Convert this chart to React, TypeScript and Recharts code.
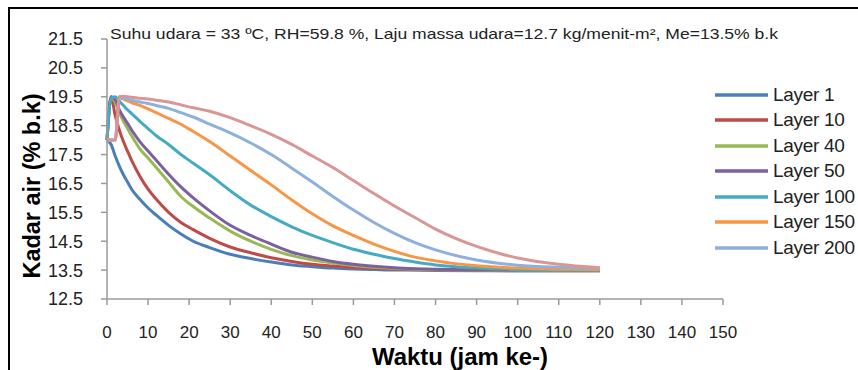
import { LineChart, Line, XAxis, YAxis, Legend } from 'recharts';

const times = [0, 1, 2, 3, 4, 5, 6, 8, 10, 12, 15, 18, 21, 25, 30, 35, 40, 45, 50, 55, 60, 65, 70, 75, 80, 90, 100, 110, 120];

const layer1 = [18.0, 17.85, 17.45, 17.1, 16.8, 16.55, 16.3, 15.95, 15.65, 15.4, 15.05, 14.75, 14.5, 14.28, 14.05, 13.9, 13.78, 13.68, 13.62, 13.57, 13.54, 13.52, 13.5, 13.5, 13.49, 13.48, 13.48, 13.48, 13.48];
const layer10 = [18.0, 19.5, 18.85, 18.35, 17.95, 17.62, 17.3, 16.75, 16.3, 15.95, 15.5, 15.15, 14.9, 14.6, 14.3, 14.1, 13.93, 13.8, 13.7, 13.64, 13.59, 13.56, 13.53, 13.51, 13.5, 13.49, 13.48, 13.48, 13.48];
const layer40 = [18.0, 19.5, 19.3, 18.95, 18.65, 18.4, 18.15, 17.7, 17.38, 17.05, 16.55, 16.05, 15.7, 15.3, 14.85, 14.5, 14.22, 14.0, 13.85, 13.75, 13.66, 13.6, 13.56, 13.53, 13.51, 13.5, 13.49, 13.49, 13.49];
const layer50 = [18.0, 19.5, 19.4, 19.05, 18.8, 18.58, 18.35, 17.95, 17.62, 17.3, 16.82, 16.38, 16.0, 15.55, 15.05, 14.7, 14.4, 14.12, 13.95, 13.8, 13.7, 13.63, 13.58, 13.55, 13.53, 13.51, 13.5, 13.5, 13.5];
const layer100 = [18.0, 19.45, 19.5, 19.35, 19.2, 19.05, 18.92, 18.65, 18.4, 18.15, 17.85, 17.5, 17.2, 16.8, 16.25, 15.75, 15.35, 15.0, 14.7, 14.45, 14.22, 14.05, 13.9, 13.78, 13.68, 13.57, 13.52, 13.5, 13.5];
const layer150 = [18.0, 18.0, 18.0, 19.5, 19.42, 19.36, 19.3, 19.2, 19.08, 18.95, 18.75, 18.55, 18.3, 17.95, 17.45, 16.95, 16.45, 15.93, 15.45, 15.03, 14.7, 14.4, 14.15, 13.95, 13.82, 13.65, 13.57, 13.53, 13.52];
const layer200 = [18.0, 18.0, 18.0, 19.45, 19.45, 19.42, 19.38, 19.32, 19.27, 19.2, 19.1, 18.95, 18.8, 18.55, 18.25, 17.9, 17.5, 17.03, 16.55, 16.05, 15.58, 15.15, 14.77, 14.45, 14.2, 13.85, 13.67, 13.6, 13.57];
const layer250 = [18.0, 18.0, 18.0, 19.5, 19.52, 19.5, 19.48, 19.45, 19.42, 19.38, 19.32, 19.22, 19.12, 19.0, 18.78, 18.5, 18.2, 17.85, 17.45, 17.05, 16.6, 16.15, 15.72, 15.32, 14.92, 14.32, 13.92, 13.7, 13.58];

const xTicks = [0, 10, 20, 30, 40, 50, 60, 70, 80, 90, 100, 110, 120, 130, 140, 150];
const yTicks = [12.5, 13.5, 14.5, 15.5, 16.5, 17.5, 18.5, 19.5, 20.5, 21.5];

const series = [
  { key: 'l1', name: 'Layer 1', values: layer1, color: '#4a7ebb', legend: true },
  { key: 'l10', name: 'Layer 10', values: layer10, color: '#be4b48', legend: true },
  { key: 'l40', name: 'Layer 40', values: layer40, color: '#98b954', legend: true },
  { key: 'l50', name: 'Layer 50', values: layer50, color: '#7d60a0', legend: true },
  { key: 'l100', name: 'Layer 100', values: layer100, color: '#46aac5', legend: true },
  { key: 'l150', name: 'Layer 150', values: layer150, color: '#f79646', legend: true },
  { key: 'l200', name: 'Layer 200', values: layer200, color: '#8eb0dd', legend: true },
  { key: 'l250', name: 'Layer 250', values: layer250, color: '#d99694', legend: false },
];

const data = times.map((t, i) => {
  const row: Record<string, number> = { t };
  series.forEach((s) => {
    row[s.key] = s.values[i];
  });
  return row;
});

const FONT = '"Liberation Sans", Arial, sans-serif';

function LegendBox({ payload }: any) {
  // keep the series order, not the alphabetical one
  const order = series.map((s) => s.name);
  const items = (payload || [])
    .filter((p: any) => p.type !== 'none')
    .sort((a: any, b: any) => order.indexOf(a.value) - order.indexOf(b.value));
  return (
    <div style={{ fontFamily: FONT }}>
      {items.map((p: any) => (
        <div key={p.value} style={{ display: 'flex', alignItems: 'center', height: 25.5, whiteSpace: 'nowrap' }}>
          <svg width={58} height={6}>
            <line x1={0} y1={3} x2={53} y2={3} stroke={p.color} strokeWidth={3.5} />
          </svg>
          <span style={{ fontSize: 19, letterSpacing: -0.3, color: '#222' }}>{p.value}</span>
        </div>
      ))}
    </div>
  );
}

export default function App() {
  return (
    <div style={{ position: 'fixed', left: 0, top: 0, width: 858, height: 370, overflow: 'hidden', background: '#fff' }}>
      <div
        style={{
          position: 'absolute',
          left: 8,
          top: 7,
          width: 900,
          height: 400,
          borderLeft: '2px solid #000',
          borderTop: '2px solid #000',
        }}
      />
      <LineChart
        width={858}
        height={370}
        data={data}
        margin={{ top: 39, right: 135, left: 0, bottom: 0 }}
        style={{ position: 'absolute', left: 0, top: 0, fontFamily: FONT }}
      >
        <XAxis
          dataKey="t"
          type="number"
          domain={[0, 150]}
          ticks={xTicks}
          interval={0}
          height={71}
          tickSize={6}
          tickMargin={21}
          axisLine={{ stroke: '#9a9a9a', strokeWidth: 1.5 }}
          tickLine={{ stroke: '#9a9a9a', strokeWidth: 1.5 }}
          tick={{ fontSize: 17, fill: '#222' }}
        />
        <YAxis
          type="number"
          domain={[12.5, 21.5]}
          ticks={yTicks}
          interval={0}
          width={107}
          tickSize={6}
          tickMargin={18}
          axisLine={{ stroke: '#9a9a9a', strokeWidth: 1.5 }}
          tickLine={{ stroke: '#9a9a9a', strokeWidth: 1.5 }}
          tick={{ fontSize: 18, fill: '#222' }}
          tickFormatter={(v: number) => v.toFixed(1)}
        />
        <Legend
          layout="vertical"
          align="center"
          verticalAlign="middle"
          content={<LegendBox />}
          wrapperStyle={{ left: 715, top: 82, width: 200 }}
        />
        {series.map((s) => (
          <Line
            key={s.key}
            dataKey={s.key}
            name={s.name}
            type="monotone"
            stroke={s.color}
            strokeWidth={3}
            dot={false}
            legendType={s.legend ? 'line' : 'none'}
            isAnimationActive={false}
          />
        ))}
      </LineChart>
      <svg width={858} height={370} style={{ position: 'absolute', left: 0, top: 0, pointerEvents: 'none', fontFamily: FONT }}>
        <text x={110} y={39} fontSize={15} fill="#222" textLength={668} lengthAdjust="spacingAndGlyphs">
          Suhu udara = 33 ºC, RH=59.8 %, Laju massa udara=12.7 kg/menit-m², Me=13.5% b.k
        </text>
        <text
          x={460}
          y={365}
          fontSize={23}
          fontWeight="bold"
          fill="#000"
          textAnchor="middle"
          textLength={176}
          lengthAdjust="spacingAndGlyphs"
        >
          Waktu (jam ke-)
        </text>
        <text
          transform="translate(40,186) rotate(-90)"
          fontSize={24}
          fontWeight="bold"
          fill="#000"
          textAnchor="middle"
          textLength={185}
          lengthAdjust="spacingAndGlyphs"
        >
          Kadar air (% b.k)
        </text>
      </svg>
    </div>
  );
}
